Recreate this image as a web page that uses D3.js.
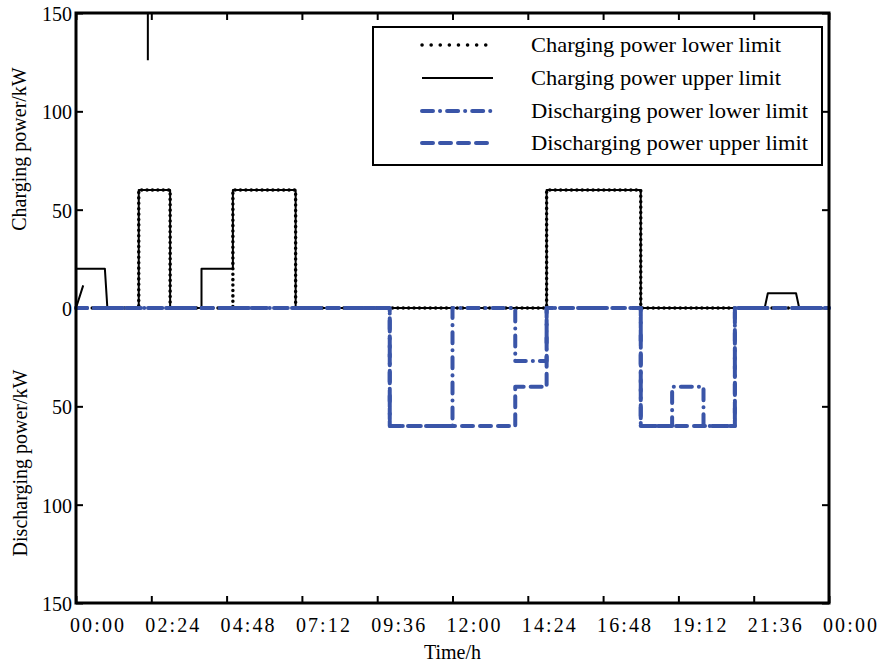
<!DOCTYPE html>
<head>
    <meta charset="utf-8">
    <script src="https://d3js.org/d3.v7.min.js"></script>
    <style>
        body { margin: 0; background: #fff; }
        text { font-family: "Liberation Serif", "Times New Roman", serif; fill: #000; }
    </style>
</head>
<body>
<script>
    ////////////// Data //////////////

    //[hour, kW] pairs, null = break in the line
    const chargeLower = [[0,0],[2,0],[2,60],[3,60],[3,0],[5,0],[5,60],[7,60],[7,0],
        [15,0],[15,60],[18,60],[18,0],[24,0]]

    const chargeUpper = [[0,0],[0.23,11.5],null,
        [2.29,150],[2.29,126],null,
        [0,20],[0.92,20],[1.0,0],[2,0],[2,60],[3,60],[3,0],[4,0],[4,20],[5,20],[5,60],[7,60],[7,0],
        [15,0],[15,60],[18,60],[18,0],[21.95,0],[22.05,7.5],[22.95,7.5],[23.05,0],[24,0]]

    //discharging drawn below zero
    const dischargeLower = [[0,0],[10,0],[10,-60],[12,-60],[12,0],[14,0],[14,-27],[15,-27],[15,0],
        [18,0],[18,-60],[19,-60],[19,-40],[20,-40],[20,-60],[21,-60],[21,0],[24,0]]

    const dischargeUpper = [[0,0],[10,0],[10,-60],[14,-60],[14,-40],[15,-40],[15,0],
        [18,0],[18,-60],[21,-60],[21,0],[24,0]]

    const xTicks = [0, 2.4, 4.8, 7.2, 9.6, 12, 14.4, 16.8, 19.2, 21.6, 24]
    const xTickLabels = ["00:00","02:24","04:48","07:12","09:36","12:00","14:24","16:48","19:12","21:36","00:00"]
    const yTicks = [150, 100, 50, 0, -50, -100, -150]

    const legendNames = ["Charging power lower limit", "Charging power upper limit",
        "Discharging power lower limit", "Discharging power upper limit"]

    ////////////// SVG //////////////

    const width = 881, height = 666
    const plotLeft = 76, plotRight = 829, plotTop = 13, plotBottom = 603

    const svg = d3.select("body").append("svg")
        .attr("width", width)
        .attr("height", height)

    const x = d3.scaleLinear().domain([0, 24]).range([plotLeft, plotRight])
    const y = d3.scaleLinear().domain([-150, 150]).range([plotBottom, plotTop])

    const blue = "#3a55a8"

    ////////////// Axes (ticks pointing inward) //////////////

    svg.append("g")
        .attr("transform", `translate(0,${plotBottom})`)
        .call(d3.axisTop(x).tickValues(xTicks).tickSize(7).tickFormat(""))
    svg.append("g")
        .attr("transform", `translate(0,${plotTop})`)
        .call(d3.axisBottom(x).tickValues(xTicks).tickSize(7).tickFormat(""))
    svg.append("g")
        .attr("transform", `translate(${plotLeft},0)`)
        .call(d3.axisRight(y).tickValues(yTicks).tickSize(7).tickFormat(""))
    svg.append("g")
        .attr("transform", `translate(${plotRight},0)`)
        .call(d3.axisLeft(y).tickValues(yTicks).tickSize(7).tickFormat(""))

    svg.selectAll(".domain").remove()
    svg.selectAll(".tick line").attr("stroke", "#000").attr("stroke-width", 2)

    //x tick labels
    svg.append("g").selectAll("text")
        .data(xTicks)
        .enter().append("text")
        .attr("x", d => x(d) + 21)
        .attr("y", 632)
        .attr("text-anchor", "middle")
        .attr("font-size", 20)
        .attr("textLength", 54)
        .attr("lengthAdjust", "spacing")
        .text((d, i) => xTickLabels[i])

    //y tick labels (absolute values)
    svg.append("g").selectAll("text")
        .data(yTicks)
        .enter().append("text")
        .attr("x", plotLeft - 4)
        .attr("y", d => y(d) + 8)
        .attr("text-anchor", "end")
        .attr("font-size", 20)
        .text(d => Math.abs(d))

    //axis titles
    svg.append("text")
        .attr("transform", `translate(26,149) rotate(-90)`)
        .attr("text-anchor", "middle")
        .attr("font-size", 20)
        .text("Charging power/kW")
    svg.append("text")
        .attr("transform", `translate(27,463) rotate(-90)`)
        .attr("text-anchor", "middle")
        .attr("font-size", 20)
        .text("Discharging power/kW")
    svg.append("text")
        .attr("x", (plotLeft + plotRight) / 2)
        .attr("y", 659)
        .attr("text-anchor", "middle")
        .attr("font-size", 20)
        .text("Time/h")

    ////////////// Lines //////////////

    const line = d3.line()
        .defined(d => d !== null)
        .x(d => x(d[0]))
        .y(d => y(d[1]))

    const styles = [
        { data: chargeUpper, color: "#000", w: 2, dash: null, cap: "butt" },
        { data: chargeLower, color: "#000", w: 3.5, dash: "0.1,5.3", cap: "round" },
        { data: dischargeLower, color: blue, w: 4, dash: "11,7,0.1,7", cap: "round" },
        { data: dischargeUpper, color: blue, w: 4, dash: "11,7", cap: "round" }
    ]

    const lineGroup = svg.append("g")
    styles.forEach(s => {
        lineGroup.append("path")
            .attr("d", line(s.data))
            .attr("fill", "none")
            .attr("stroke", s.color)
            .attr("stroke-width", s.w)
            .attr("stroke-dasharray", s.dash)
            .attr("stroke-linecap", s.cap)
            .attr("stroke-linejoin", "round")
    })

    //plot frame
    svg.append("rect")
        .attr("x", plotLeft).attr("y", plotTop)
        .attr("width", plotRight - plotLeft).attr("height", plotBottom - plotTop)
        .attr("fill", "none")
        .attr("stroke", "#000")
        .attr("stroke-width", 3)

    ////////////// Legend //////////////

    const legend = svg.append("g")
    legend.append("rect")
        .attr("x", 373).attr("y", 27)
        .attr("width", 449).attr("height", 138)
        .attr("fill", "#fff")
        .attr("stroke", "#000")
        .attr("stroke-width", 2)

    const rowY = [45, 78, 111, 143]
    const textLen = [250, 250, 277, 277]
    const legendStyles = [
        { color: "#000", w: 3.5, dash: "0.1,9", cap: "round" },
        styles[0], styles[2], styles[3]
    ]
    legendNames.forEach((name, i) => {
        const s = legendStyles[i]
        legend.append("line")
            .attr("x1", 422).attr("x2", 493)
            .attr("y1", rowY[i]).attr("y2", rowY[i])
            .attr("stroke", s.color)
            .attr("stroke-width", s.w)
            .attr("stroke-dasharray", s.dash)
            .attr("stroke-linecap", s.cap)
        legend.append("text")
            .attr("x", 531)
            .attr("y", rowY[i] + 7)
            .attr("font-size", 21)
            .attr("textLength", textLen[i])
            .attr("lengthAdjust", "spacingAndGlyphs")
            .text(name)
    })
</script>
</body>
